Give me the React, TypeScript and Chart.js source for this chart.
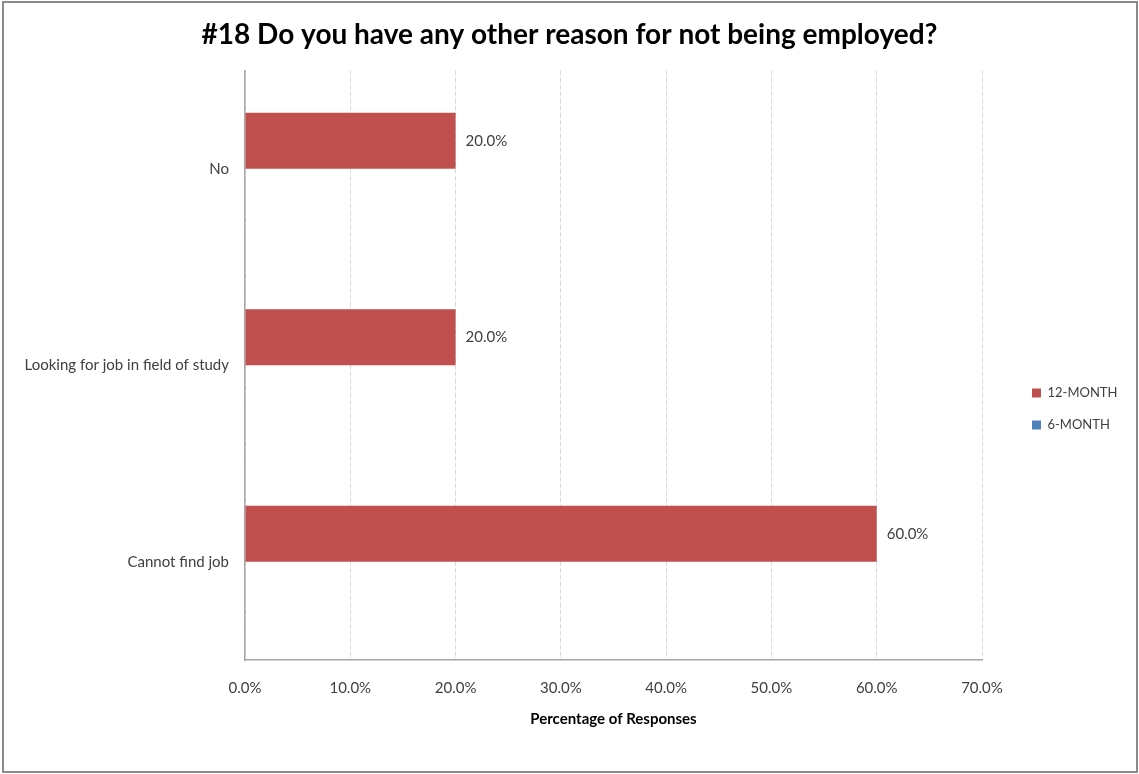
import React, { useEffect, useRef } from "react";
import { Chart, registerables } from "chart.js";

Chart.register(...registerables);

const categories = ["No", "Looking for job in field of study", "Cannot find job"];
const series12Month = [20, 20, 60];
const series6Month: (number | null)[] = [null, null, null];
const xTicks = [0, 10, 20, 30, 40, 50, 60, 70];

const FONT = "Lato, 'Open Sans', sans-serif";

const valueLabels = {
  id: "valueLabels",
  afterDatasetsDraw(chart: any) {
    const ctx = chart.ctx;
    const meta = chart.getDatasetMeta(0);
    ctx.save();
    ctx.font = `15px ${FONT}`;
    ctx.fillStyle = "#404040";
    ctx.textAlign = "left";
    ctx.textBaseline = "middle";
    meta.data.forEach((bar: any, i: number) => {
      const v = chart.data.datasets[0].data[i];
      if (v == null) return;
      ctx.fillText(v.toFixed(1) + "%", bar.x + 10, bar.y);
    });
    ctx.restore();
  },
};

const legendShift = {
  id: "legendShift",
  beforeInit(chart: any) {
    const lg = chart.legend;
    if (lg) {
      const orig = lg.fit;
      lg.fit = function () {
        orig.call(this);
        this.width = 157;
      };
    }
  },
  afterLayout(chart: any) {
    const lg = chart.legend;
    if (lg) {
      lg.left += 31;
      lg.right += 31;
      lg.top += 22;
      lg.bottom += 22;
    }
  },
};

export default function App() {
  const ref = useRef<HTMLCanvasElement>(null);
  useEffect(() => {
    if (!ref.current) return;
    const chart = new Chart(ref.current, {
      type: "bar",
      data: {
        labels: categories,
        datasets: [
          {
            label: "12-MONTH",
            data: series12Month,
            backgroundColor: "#C0504D",
            categoryPercentage: 0.57,
            barPercentage: 1,
          },
          {
            label: "6-MONTH",
            data: series6Month,
            backgroundColor: "#4F81BD",
            categoryPercentage: 0.57,
            barPercentage: 1,
          },
        ],
      },
      options: {
        indexAxis: "y",
        responsive: false,
        animation: false,
        devicePixelRatio: 1,
        layout: { padding: { left: 0, right: 0, top: 0, bottom: 0 } },
        plugins: {
          title: {
            display: true,
            text: "#18 Do you have any other reason for not being employed?",
            color: "#000",
            font: { family: FONT, size: 28, weight: "bold" },
            padding: { top: 18, bottom: 19 },
          },
          legend: {
            display: true,
            position: "right",
            labels: {
              boxWidth: 9,
              boxHeight: 9,
              padding: 19,
              color: "#404040",
              font: { family: FONT, size: 13 },
            },
          },
          tooltip: { enabled: false },
        },
        scales: {
          x: {
            type: "linear",
            min: 0,
            max: 70,
            afterBuildTicks(scale: any) {
              scale.ticks = xTicks.map((v) => ({ value: v }));
            },
            afterFit(scale: any) {
              scale.height = 114;
            },
            ticks: {
              padding: 19,
              color: "#404040",
              font: { family: FONT, size: 15 },
              callback: (v: any) => Number(v).toFixed(1) + "%",
            },
            grid: {
              display: true,
              drawTicks: false,
              color: "#D9D9D9",
              lineWidth: 1,
            },
            border: { display: true, color: "#A6A6A6", width: 1.5, dash: [5, 2] },
            title: {
              display: true,
              text: "Percentage of Responses",
              color: "#000",
              font: { family: FONT, size: 15, weight: "bold" },
              padding: { top: 0, bottom: 46 },
            },
          },
          y: {
            type: "category",
            afterFit(scale: any) {
              scale.width = 245;
            },
            ticks: {
              padding: 16,
              color: "#404040",
              font: { family: FONT, size: 15 },
            },
            grid: { display: false, drawTicks: false },
            border: { display: true, color: "#A6A6A6", width: 1.5 },
          },
        },
      },
      plugins: [valueLabels, legendShift],
    });
    return () => chart.destroy();
  }, []);

  return (
    <div
      style={{
        position: "absolute",
        left: 0,
        top: 0,
        width: 1139,
        height: 774,
        background: "#fff",
      }}
    >
      <canvas ref={ref} width={1139} height={774} style={{ display: "block" }} />
      <div
        style={{
          position: "absolute",
          left: 2,
          top: 1,
          width: 1136,
          height: 772,
          boxSizing: "border-box",
          border: "2px solid #8C8C8C",
          pointerEvents: "none",
        }}
      />
    </div>
  );
}
